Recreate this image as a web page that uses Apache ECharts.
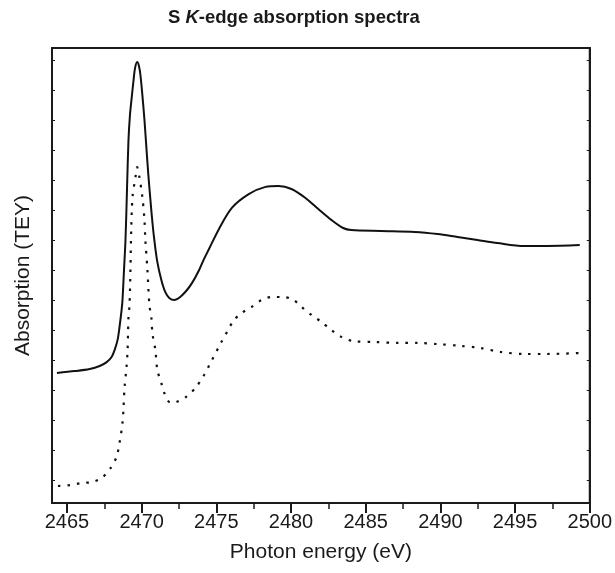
<!DOCTYPE html>
<html>
<head>
<meta charset="utf-8">
<script src="https://cdn.jsdelivr.net/npm/echarts@6/dist/echarts.min.js"></script>
<style>
html,body{margin:0;padding:0;background:#fff;}
#chart{width:615px;height:573px;}
</style>
</head>
<body>
<div id="chart"></div>
<script>
// Photon energy (eV) and absorption (arbitrary units, TEY)
var solidEnergy = [2464.33, 2465.53, 2466.53, 2467.19, 2467.66, 2467.99, 2468.19, 2468.39, 2468.52, 2468.66, 2468.72, 2468.82, 2468.92, 2469.02, 2469.12, 2469.22, 2469.32, 2469.46, 2469.56, 2469.70, 2469.82, 2469.92, 2470.05, 2470.19, 2470.32, 2470.45, 2470.59, 2470.72, 2470.85, 2471.05, 2471.32, 2471.58, 2471.85, 2472.18, 2472.58, 2472.98, 2473.38, 2473.85, 2474.18, 2474.51, 2475.18, 2476.04, 2477.17, 2478.30, 2479.17, 2480.03, 2480.97, 2481.83, 2482.70, 2483.49, 2484.03, 2486.02, 2488.28, 2489.82, 2491.15, 2492.48, 2493.81, 2495.60, 2497.13, 2499.33];
var solidAbs = [3.57, 3.63, 3.70, 3.80, 3.93, 4.10, 4.33, 4.67, 5.10, 5.67, 6.00, 7.00, 8.00, 9.67, 11.33, 12.17, 12.67, 13.33, 13.73, 13.93, 13.80, 13.50, 12.83, 12.00, 11.07, 10.17, 9.33, 8.60, 8.00, 7.27, 6.67, 6.27, 6.07, 6.00, 6.10, 6.30, 6.57, 7.00, 7.37, 7.70, 8.37, 9.07, 9.53, 9.77, 9.80, 9.70, 9.40, 9.03, 8.67, 8.40, 8.33, 8.30, 8.27, 8.20, 8.10, 8.00, 7.90, 7.80, 7.80, 7.83];

var dottedEnergy = [2464.40, 2465.20, 2466.00, 2466.66, 2467.33, 2467.93, 2468.32, 2468.52, 2468.72, 2468.79, 2468.86, 2468.99, 2469.06, 2469.09, 2469.12, 2469.19, 2469.25, 2469.30, 2469.39, 2469.59, 2469.70, 2469.85, 2470.05, 2470.19, 2470.25, 2470.39, 2470.52, 2470.65, 2470.72, 2470.92, 2471.05, 2471.32, 2471.52, 2471.78, 2472.05, 2472.32, 2472.98, 2473.65, 2474.18, 2474.71, 2475.31, 2475.71, 2476.18, 2476.71, 2477.37, 2478.04, 2478.70, 2479.50, 2480.17, 2480.70, 2481.37, 2482.03, 2482.70, 2483.36, 2484.16, 2485.62, 2487.15, 2488.48, 2489.82, 2491.35, 2492.68, 2494.01, 2495.60, 2497.13, 2499.26];
var dottedAbs = [-0.20, -0.17, -0.10, -0.07, 0.07, 0.40, 0.77, 1.23, 1.90, 2.43, 3.10, 3.77, 4.33, 4.90, 5.43, 5.83, 7.00, 8.27, 9.43, 10.10, 10.43, 10.10, 9.43, 8.67, 8.00, 7.00, 5.83, 5.43, 4.90, 4.33, 3.67, 3.23, 2.90, 2.63, 2.57, 2.60, 2.77, 3.10, 3.50, 4.00, 4.57, 4.93, 5.33, 5.57, 5.77, 6.00, 6.10, 6.10, 6.00, 5.77, 5.50, 5.27, 5.00, 4.77, 4.63, 4.60, 4.57, 4.57, 4.53, 4.47, 4.40, 4.27, 4.20, 4.20, 4.23];

var xMajorTicks = [2465, 2470, 2475, 2480, 2485, 2490, 2495, 2500];
var xMinorTicks = [2467.5, 2472.5, 2477.5, 2482.5, 2487.5, 2492.5, 2497.5];
var yTicks = [0, 1, 2, 3, 4, 5, 6, 7, 8, 9, 10, 11, 12, 13, 14];

function pairs(xs, ys) {
  var out = [];
  for (var i = 0; i < xs.length; i++) out.push([xs[i], ys[i]]);
  return out;
}

var FONT = '"Liberation Sans", Arial, sans-serif';
var INK = '#1a1a1a';
var X_MIN = 2464, X_MAX = 2500, Y_MIN = -0.767, Y_MAX = 14.4;

var chart = echarts.init(document.getElementById('chart'), null, {renderer: 'canvas'});
chart.setOption({
  backgroundColor: '#fff',
  animation: false,
  title: {
    text: 'S {i|K}-edge absorption spectra',
    left: 163, top: 3,
    textStyle: {
      fontFamily: FONT, fontSize: 18.5, fontWeight: 'bold', color: INK,
      rich: { i: { fontFamily: FONT, fontSize: 18.5, fontWeight: 'bold', fontStyle: 'italic', color: INK } }
    }
  },
  grid: { left: 52, right: 22, top: 48, bottom: 70, show: true, borderColor: INK, borderWidth: 2, backgroundColor: 'transparent' },
  xAxis: [{
    type: 'value', min: X_MIN, max: X_MAX, position: 'bottom',
    name: 'Photon energy (eV)', nameLocation: 'middle', nameGap: 39,
    nameTextStyle: { fontFamily: FONT, fontSize: 21, color: INK },
    axisLine: { show: true, onZero: false, lineStyle: { color: INK, width: 2 } },
    axisTick: { show: true, inside: false, length: 10, customValues: xMajorTicks, lineStyle: { color: INK, width: 2 } },
    axisLabel: { show: true, customValues: xMajorTicks, margin: 9, fontFamily: FONT, fontSize: 20, color: INK,
      formatter: function (v) { return String(v); } },
    splitLine: { show: false }
  }, {
    type: 'value', min: X_MIN, max: X_MAX, position: 'bottom',
    axisLine: { show: false, onZero: false },
    axisTick: { show: true, inside: false, length: 6, customValues: xMinorTicks, lineStyle: { color: INK, width: 1.5 } },
    axisLabel: { show: false },
    splitLine: { show: false }
  }],
  yAxis: [{
    type: 'value', min: Y_MIN, max: Y_MAX, position: 'left',
    name: 'Absorption (TEY)', nameLocation: 'middle', nameGap: 18, nameRotate: 90,
    nameTextStyle: { fontFamily: FONT, fontSize: 21, color: INK },
    axisLine: { show: true, onZero: false, lineStyle: { color: INK, width: 2 } },
    axisTick: { show: true, inside: true, length: 3, customValues: yTicks, lineStyle: { color: INK, width: 1 } },
    axisLabel: { show: false },
    splitLine: { show: false }
  }, {
    type: 'value', min: Y_MIN, max: Y_MAX, position: 'right',
    axisLine: { show: true, onZero: false, lineStyle: { color: INK, width: 2 } },
    axisTick: { show: true, inside: true, length: 3, customValues: yTicks, lineStyle: { color: INK, width: 1 } },
    axisLabel: { show: false },
    splitLine: { show: false }
  }],
  series: [{
    type: 'line', xAxisIndex: 0, yAxisIndex: 0,
    data: pairs(solidEnergy, solidAbs),
    smooth: 0.3, showSymbol: false, symbol: 'none',
    lineStyle: { color: '#111', width: 2 }
  }, {
    type: 'line', xAxisIndex: 0, yAxisIndex: 0,
    data: pairs(dottedEnergy, dottedAbs),
    smooth: 0.3, showSymbol: false, symbol: 'none',
    lineStyle: { color: '#111', width: 2.2, type: [2.5, 7] }
  }]
});
</script>
</body>
</html>
